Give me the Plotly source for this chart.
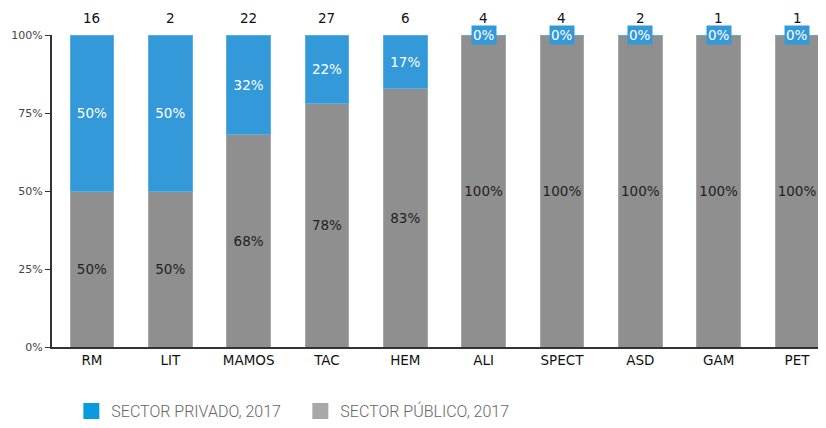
import plotly.graph_objects as go

categories = ["RM", "LIT", "MAMOS", "TAC", "HEM", "ALI", "SPECT", "ASD", "GAM", "PET"]
counts = [16, 2, 22, 27, 6, 4, 4, 2, 1, 1]
publico = [50, 50, 68, 78, 83, 100, 100, 100, 100, 100]
privado = [50, 50, 32, 22, 17, 0, 0, 0, 0, 0]

BLUE = "#3399d8"
GRAY = "#8f8f8f"

fig = go.Figure()
fig.add_bar(x=categories, y=[v / 100 for v in publico], name="publico",
            marker=dict(color=GRAY, line=dict(color="#a6a6a6", width=1)),
            text=[f"{v}%" for v in publico], textposition="inside",
            insidetextanchor="middle", textangle=0, constraintext="none",
            textfont=dict(family="DejaVu Sans", size=13.5, color="#222"),
            showlegend=False, width=0.56)
fig.add_bar(x=categories, y=[v / 100 for v in privado], name="privado",
            marker=dict(color=BLUE, line=dict(color="#5aaee0", width=1)),
            text=[f"{v}%" if v > 0 else "" for v in privado], textposition="inside",
            insidetextanchor="middle", textangle=0, constraintext="none",
            textfont=dict(family="DejaVu Sans", size=13.5, color="white"),
            showlegend=False, width=0.56)

# legend entries
fig.add_scatter(x=[None], y=[None], mode="markers", name="SECTOR PRIVADO, 2017",
                marker=dict(symbol="square", size=16, color="#0a9ae0"))
fig.add_scatter(x=[None], y=[None], mode="markers", name="SECTOR PÚBLICO, 2017",
                marker=dict(symbol="square", size=16, color="#a8a8ab"))

for c, n, p in zip(categories, counts, privado):
    fig.add_annotation(x=c, y=1, yref="y", text=str(n), showarrow=False,
                       yanchor="bottom", yshift=7,
                       font=dict(family="DejaVu Sans", size=13.5, color="#111"))
    if p == 0:
        fig.add_annotation(x=c, y=1, yref="y", text="0%", showarrow=False,
                           yanchor="middle", bgcolor=BLUE, borderpad=1,
                           font=dict(family="DejaVu Sans", size=13.5, color="white"))

# page body has an 8px margin, so the figure is sized/shifted to fit the window
fig.update_layout(
    barmode="stack",
    width=818, height=420,
    margin=dict(l=44, r=0, t=27, b=80),
    paper_bgcolor="white", plot_bgcolor="white",
    legend=dict(orientation="h", x=0.025, y=-0.205, xanchor="left", yanchor="middle",
                traceorder="normal",
                font=dict(family="Roboto", size=16, color="#666", weight=300),
                entrywidth=184),
)
fig.update_xaxes(range=[-0.51, 9.37], showline=True, linecolor="#333", linewidth=2,
                 showgrid=False, ticks="",
                 tickfont=dict(family="DejaVu Sans", size=13.5, color="#111"))
fig.update_yaxes(range=[0, 1], tickvals=[0, 0.25, 0.5, 0.75, 1],
                 ticktext=["0%", "25%", "50%", "75%", "100%"],
                 showline=True, linecolor="#333", linewidth=2, showgrid=False,
                 ticks="outside", ticklen=5, tickcolor="#333", zeroline=False,
                 tickfont=dict(family="DejaVu Sans", size=11, color="#444"))

fig.write_html("out.html")
